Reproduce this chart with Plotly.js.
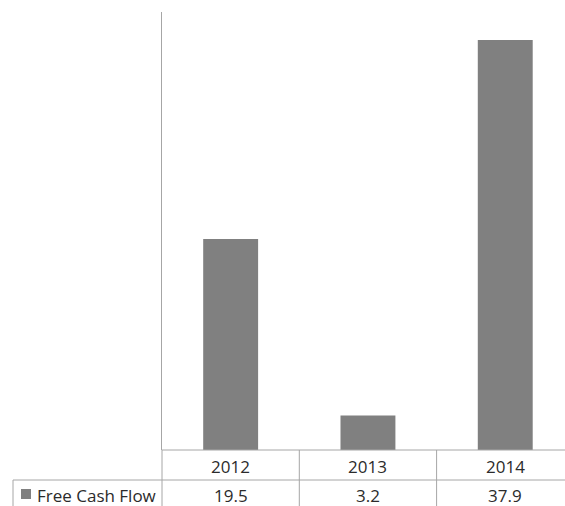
<!DOCTYPE html>
<html>
<head>
<meta charset="utf-8">
<script src="https://cdn.plot.ly/plotly-3.0.1.min.js"></script>
<style>html,body{margin:0;padding:0;background:#fff;}#chart{width:565px;height:506px;}</style>
</head>
<body>
<div id="chart"></div>
<script>
const years = ['2012', '2013', '2014'];
const seriesName = 'Free Cash Flow';
const freeCashFlow = [19.5, 3.2, 37.9];

const W = 565, H = 506;
const L = 162, T = 12, B = 56;
const plotW = W - L, plotH = H - T - B;
const px2x = p => (p - L) / plotW;
const py2y = p => (H - B - p) / plotH;

const lineColor = '#a6a6a6';
const barColor = '#808080';
const font = {family: '"Open Sans", "Noto Sans", sans-serif', size: 17, color: '#2b2b2b'};

const shapes = [];
// table horizontal lines
shapes.push({type: 'line', xref: 'paper', yref: 'paper', x0: 0, x1: 1, y0: 0, y1: 0, line: {color: lineColor, width: 1}});
shapes.push({type: 'line', xref: 'paper', yref: 'paper', x0: px2x(13), x1: 1, y0: py2y(480), y1: py2y(480), line: {color: lineColor, width: 1}});
// table verticals
shapes.push({type: 'line', xref: 'paper', yref: 'paper', x0: 0, x1: 0, y0: 0, y1: py2y(H), line: {color: lineColor, width: 1}});
shapes.push({type: 'line', xref: 'paper', yref: 'paper', x0: px2x(13), x1: px2x(13), y0: py2y(480), y1: py2y(H), line: {color: lineColor, width: 1}});
for (let i = 1; i < years.length; i++) {
  shapes.push({type: 'line', xref: 'x', yref: 'paper', x0: i - 0.5, x1: i - 0.5, y0: 0, y1: py2y(H), line: {color: lineColor, width: 1}});
}
// legend key
shapes.push({type: 'rect', xref: 'paper', yref: 'paper', x0: px2x(21), x1: px2x(31), y0: py2y(499), y1: py2y(489), fillcolor: barColor, line: {width: 0}});

const annotations = [];
years.forEach((y, i) => {
  annotations.push({xref: 'x', yref: 'paper', x: i, y: py2y(466), text: y, showarrow: false, xanchor: 'center', yanchor: 'middle', font: font});
  annotations.push({xref: 'x', yref: 'paper', x: i, y: py2y(495), text: String(freeCashFlow[i]), showarrow: false, xanchor: 'center', yanchor: 'middle', font: font});
});
annotations.push({xref: 'paper', yref: 'paper', x: px2x(35), y: py2y(495), text: seriesName, showarrow: false, xanchor: 'left', yanchor: 'middle', font: font});

const data = [{
  type: 'bar',
  x: years,
  y: freeCashFlow,
  name: seriesName,
  width: 0.4,
  marker: {color: barColor, line: {width: 0}},
  hoverinfo: 'x+y'
}];

const layout = {
  width: W, height: H,
  margin: {l: L, r: 0, t: T, b: B, pad: 0},
  paper_bgcolor: '#ffffff', plot_bgcolor: '#ffffff',
  showlegend: false,
  xaxis: {type: 'category', range: [-0.5, -0.5 + plotW / 137.3], showticklabels: false, ticks: '', showgrid: false, zeroline: false, showline: false, fixedrange: true},
  yaxis: {range: [0, plotH / 10.82], showticklabels: false, ticks: '', showgrid: false, zeroline: false, showline: true, linecolor: lineColor, linewidth: 1, fixedrange: true},
  shapes: shapes,
  annotations: annotations,
  font: font
};

Plotly.newPlot('chart', data, layout, {displayModeBar: false, staticPlot: true});
</script>
</body>
</html>
